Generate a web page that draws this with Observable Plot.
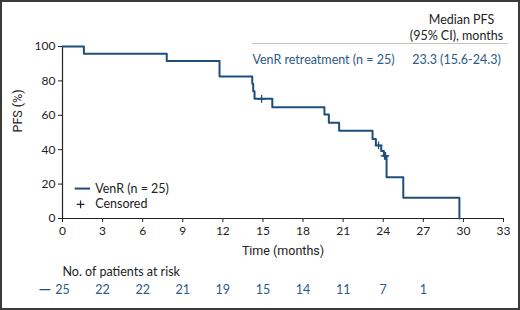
<!DOCTYPE html>
<html>
<head>
<meta charset="utf-8">
<script src="https://cdn.jsdelivr.net/npm/d3@7"></script>
<script src="https://cdn.jsdelivr.net/npm/@observablehq/plot@0.6"></script>
<style>
  html, body { margin: 0; padding: 0; background: #fff; }
  #wrap { position: relative; width: 520px; height: 310px; overflow: hidden; }
  #frame { position: absolute; left: 0; top: 0; width: 520px; height: 310px; box-sizing: border-box; border: 2px solid #3a3a3a; pointer-events: none; }
</style>
</head>
<body>
<div id="wrap"><div id="frame"></div></div>
<script>
// Kaplan–Meier step points (time in months, PFS %)
const kmTimes = [0, 1.6, 7.8, 11.75, 14.2, 14.27, 14.37, 15.7, 19.6, 19.93, 20.7, 23.2, 23.45, 23.85, 24.05, 24.25, 25.5, 29.7];
const kmSurv  = [100, 95.8, 91.5, 82.6, 78.3, 74.0, 69.6, 64.7, 60.4, 55.6, 51.0, 46.2, 42.5, 39.3, 36.4, 24.0, 12.0, 0];
// Censored observations
const censorTimes = [14.9, 23.65, 24.1, 24.17];
const censorSurv  = [69.6, 42.5, 36.4, 36.4];
// Risk table
const riskTimes  = [0, 3, 6, 9, 12, 15, 18, 21, 24, 27];
const riskCounts = [25, 22, 22, 21, 19, 15, 14, 11, 7, 1];
// Axis ticks
const xTicks = [0, 3, 6, 9, 12, 15, 18, 21, 24, 27, 30, 33];
const yTicks = [0, 20, 40, 60, 80, 100];

const blue = "#1f4e7c";
const textBlue = "#2c5a86";
const ink = "#222";
const font = "Lato, 'Open Sans', sans-serif";
const fs = 12.5;

const km = kmTimes.map((t, i) => ({t, s: kmSurv[i]}));
const censors = censorTimes.map((t, i) => ({t, s: censorSurv[i]}));

const plot = Plot.plot({
  width: 520,
  height: 310,
  marginLeft: 62,
  marginRight: 17,
  marginTop: 46,
  marginBottom: 92,
  style: {fontFamily: font, fontSize: fs + "px", color: ink, background: "transparent", overflow: "visible"},
  x: {domain: [0, 33], ticks: xTicks, label: null},
  y: {domain: [0, 100], ticks: yTicks, label: null},
  marks: [
    Plot.axisX({ticks: xTicks, tickSize: 4, tickPadding: 4, stroke: ink, fontSize: 12, label: null}),
    Plot.axisY({ticks: yTicks, tickSize: 4, tickPadding: 3, stroke: ink, fontSize: 12, label: null}),
    Plot.ruleX([0], {stroke: ink, strokeWidth: 1.2}),
    Plot.ruleY([0], {stroke: ink, strokeWidth: 1.2}),
    // axis titles
    Plot.text(["Time (months)"], {frameAnchor: "bottom", dy: 36, fill: ink, fontSize: 12.5, fontStretch: "condensed", fontFamily: "'Roboto', 'Liberation Sans Narrow', sans-serif"}),
    Plot.text(["PFS (%)"], {frameAnchor: "left", dx: -45, rotate: -90, fill: ink, fontSize: 12.5, fontFamily: "'Roboto', sans-serif"}),
    // KM curve
    Plot.line(km, {x: "t", y: "s", curve: "step-after", stroke: blue, strokeWidth: 2}),
    Plot.dot(censors, {x: "t", y: "s", symbol: "plus", r: 2.6, stroke: blue, strokeWidth: 1.3}),
    // in-plot legend
    Plot.ruleY([17.4], {x1: 0.95, x2: 2.1, stroke: blue, strokeWidth: 2}),
    Plot.text(["VenR (n = 25)"], {x: 2.45, y: 17.4, textAnchor: "start", fill: ink, fontSize: fs}),
    Plot.dot([{t: 1.35, s: 8.2}], {x: "t", y: "s", symbol: "plus", r: 2.6, stroke: ink, strokeWidth: 1.2}),
    Plot.text(["Censored"], {x: 2.45, y: 8.2, textAnchor: "start", fill: ink, fontSize: fs}),
    // median PFS table
    Plot.text(["Median PFS"], {frameAnchor: "top-right", dx: -42, dy: -31, textAnchor: "middle", fill: ink, fontSize: fs}),
    Plot.text(["(95% CI), months"], {frameAnchor: "top-right", dx: -47, dy: -15, textAnchor: "middle", fill: ink, fontSize: fs}),
    Plot.ruleY([100], {x1: 14.2, x2: 33.4, dy: -3, stroke: "#c4c4c4", strokeWidth: 1}),
    Plot.text(["VenR retreatment (n = 25)"], {frameAnchor: "top-left", dx: 190, dy: 9, textAnchor: "start", fill: textBlue, fontSize: fs}),
    Plot.text(["23.3 (15.6-24.3)"], {frameAnchor: "top-right", dx: -47, dy: 9, textAnchor: "middle", fill: textBlue, fontSize: fs}),
    // risk table
    Plot.text(["No. of patients at risk"], {frameAnchor: "bottom-left", dy: 57, textAnchor: "start", fill: ink, fontSize: fs}),
    Plot.text(["—"], {frameAnchor: "bottom-left", dx: -24, dy: 75, fill: blue, fontSize: 16, fontWeight: "bold"}),
    Plot.text(riskTimes, {x: d => d, text: (d, i) => String(riskCounts[i]), frameAnchor: "bottom", dy: 75, fill: textBlue, fontSize: fs})
  ]
});
document.getElementById("wrap").insertBefore(plot, document.getElementById("frame"));
</script>
</body>
</html>
